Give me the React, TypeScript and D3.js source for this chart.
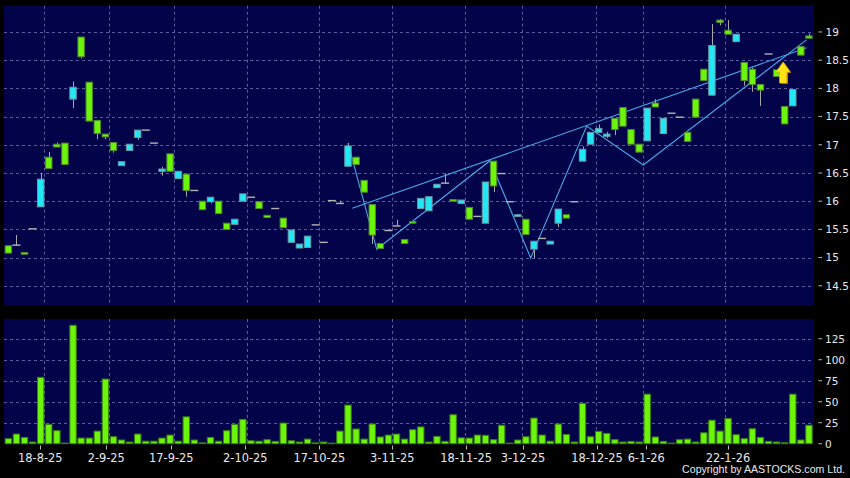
import React from 'react';
import * as d3 from 'd3';

// ---------- data ----------
const openP = [15.21,15.22,15.09,15.51,15.90,16.78,17.01,17.03,17.81,18.91,18.11,17.43,17.19,17.04,16.63,16.90,17.13,17.26,17.03,16.53,16.84,16.40,16.48,16.19,16.00,15.99,16.00,15.61,15.59,16.00,16.07,15.99,15.75,15.87,15.70,15.27,15.17,15.18,15.58,15.27,16.01,15.96,16.62,16.78,16.37,15.94,15.25,15.48,15.56,15.32,15.64,15.87,15.83,16.24,16.32,16.03,15.96,15.89,15.73,15.61,16.71,16.49,15.99,15.73,15.68,15.15,15.34,15.24,15.61,15.76,15.99,16.71,17.01,17.22,17.15,17.47,17.66,17.27,17.01,17.07,17.74,17.20,17.56,17.49,17.22,17.81,18.34,17.88,19.21,19.03,18.83,18.46,18.34,18.07,18.61,18.33,17.68,17.69,18.74,18.93];
const closeP = [15.08,15.22,15.06,15.51,16.39,16.58,16.96,16.65,18.02,18.56,17.42,17.20,17.14,16.90,16.70,17.01,17.26,17.26,17.03,16.57,16.53,16.53,16.19,16.19,15.85,16.07,15.78,15.50,15.68,16.13,16.07,15.87,15.71,15.87,15.53,15.49,15.24,15.38,15.58,15.27,16.01,15.96,16.98,16.65,16.16,15.40,15.16,15.48,15.56,15.25,15.61,16.05,16.08,16.30,16.32,16.00,16.02,15.68,15.73,16.34,16.27,16.49,15.99,15.76,15.41,15.29,15.34,15.29,15.86,15.70,15.99,16.92,17.22,17.29,17.19,17.27,17.33,17.01,16.87,17.65,17.67,17.47,17.56,17.49,17.06,17.49,18.14,18.76,19.17,18.96,18.96,18.14,18.07,17.97,18.61,18.21,17.37,17.98,18.59,18.89];
const highP = [15.21,15.40,15.09,15.51,16.50,16.87,17.04,17.03,18.12,18.91,18.11,17.43,17.19,17.04,16.70,17.01,17.26,17.26,17.03,16.61,16.84,16.53,16.48,16.19,16.00,16.07,16.00,15.61,15.68,16.13,16.07,15.99,15.75,15.87,15.70,15.49,15.24,15.38,15.58,15.27,16.01,16.01,17.03,16.78,16.37,15.94,15.25,15.48,15.67,15.32,15.64,16.05,16.08,16.30,16.49,16.03,16.02,15.89,15.73,16.34,16.71,16.49,15.99,15.76,15.68,15.29,15.34,15.29,15.86,15.76,15.99,16.97,17.22,17.36,17.23,17.47,17.66,17.27,17.01,17.65,17.81,17.47,17.56,17.49,17.22,17.81,18.34,19.14,19.23,19.21,18.96,18.46,18.37,18.07,18.61,18.33,17.68,17.98,18.74,18.97];
const lowP = [15.08,15.22,15.06,15.51,15.90,16.58,16.96,16.65,17.65,18.53,17.42,17.10,17.10,16.86,16.63,16.90,17.09,17.26,17.03,16.45,16.53,16.40,16.08,16.19,15.85,15.96,15.78,15.50,15.59,16.00,16.07,15.87,15.71,15.87,15.53,15.27,15.17,15.18,15.58,15.27,16.01,15.96,16.62,16.65,16.16,15.24,15.16,15.48,15.56,15.25,15.61,15.87,15.83,16.24,16.32,16.00,15.96,15.68,15.73,15.61,16.16,16.49,15.99,15.73,15.41,14.99,15.34,15.24,15.54,15.70,15.99,16.71,17.01,17.22,17.12,17.17,17.33,17.01,16.87,17.07,17.67,17.20,17.56,17.49,17.06,17.49,18.14,17.88,19.12,18.96,18.83,18.05,17.94,17.69,18.61,18.21,17.37,17.69,18.59,18.89];
const volume = [6,11.5,7.5,2,79,23,15.5,0.5,141,6.7,6.7,15,77,8.3,4.4,2,11.5,3,3,6.7,10.3,3,32,4.4,1,7.5,3,15.5,23,29,3.5,3,4.8,2.8,24.6,3.5,2,5.5,1,2,0.3,15,46,17.5,5.5,23.4,8,10.3,11.5,5.5,16.7,20,2,8.7,2.8,34.5,7,6.7,10.3,10,4.8,22,0.4,4.4,8.3,30.5,10.3,3,23.4,11,2,48,8.3,14.7,12.3,4.8,2,2.8,2,59,8,2.8,0.3,4.8,5.5,2,13,28,15,30,10.7,6,17.8,7.5,2.8,2,1.2,59,4.4,22];

const xTickLabels = ['18-8-25','2-9-25','17-9-25','2-10-25','17-10-25','3-11-25','18-11-25','3-12-25','18-12-25','6-1-26','22-1-26'];
const xTickPos = [3.95,12.11,20.15,29.3,38.45,47.48,56.6,63.64,72.79,78.88,88.99];
const xGridPos = [4.45,12.48,20.52,29.55,38.45,47.48,56.5,63.55,72.63,78.52,88.6];
const priceTicks = [14.5,15,15.5,16,16.5,17,17.5,18,18.5,19];
const volTicks = [0,25,50,75,100,125];

const zigzagLine: [number, number][] = [[42,17.03],[45.55,15.147],[59.56,16.718],[64.59,14.993],[71.52,17.333],[78.52,16.642],[98.7,18.86]];
const upperLine: [number, number][] = [[42.53,15.874],[98.7,18.72]];
const arrowPoint: [number, number] = [95.8, 18.47];

// ---------- layout ----------
const W = 850, H = 478;
const L = 4, R = 814;
const P_TOP = 5.7, P_BOT = 305.7;
const V_TOP = 319, V_BOT = 443.7;

const NAVY = '#03034a';
const GRID = '#5a5aa0';
const GREEN = '#6cf50a';
const GREEN_S = '#4f8a2e';
const CYAN = '#22e8f6';
const CYAN_S = '#6e9aa6';
const WICK = '#a8a8a8';
const TXT = '#e8e8e8';
const LINE = '#4aa8e6';

export default function App() {
  const n = closeP.length;
  const x = d3.scaleLinear().domain([-0.5, n - 0.5]).range([4.3, 813]);
  const yP = d3.scaleLinear().domain([14.147, 19.466]).range([P_BOT, P_TOP]);
  const yV = d3.scaleLinear().domain([0, 148.5]).range([V_BOT, V_TOP]);
  const lineGen = d3.line<[number, number]>().x(d => x(d[0])).y(d => yP(d[1]));
  const bw = 6.4;

  const [ax, ay] = [x(arrowPoint[0]), yP(arrowPoint[1])];
  const arrowPts = (dx: number, dy: number) => [
    [ax + dx, ay + dy], [ax + 7 + dx, ay + 10 + dy], [ax + 3.6 + dx, ay + 10 + dy], [ax + 3.6 + dx, ay + 21 + dy],
    [ax - 3.6 + dx, ay + 21 + dy], [ax - 3.6 + dx, ay + 10 + dy], [ax - 7 + dx, ay + 10 + dy]
  ].map(p => p.join(',')).join(' ');

  return (
    <svg width={W} height={H} style={{ position: 'fixed', left: 0, top: 0, display: 'block' }}
      fontFamily="DejaVu Sans, Verdana, sans-serif">
      <rect x={0} y={0} width={W} height={H} fill="#000" />
      <rect x={L} y={P_TOP} width={R - L} height={P_BOT - P_TOP} fill={NAVY} />
      <rect x={L} y={V_TOP} width={R - L} height={V_BOT - V_TOP} fill={NAVY} />

      {/* grid */}
      {priceTicks.map(p => (
        <line key={'hp' + p} x1={L} x2={R} y1={Math.round(yP(p)) + 0.5} y2={Math.round(yP(p)) + 0.5}
          stroke={GRID} strokeDasharray="3,3" />
      ))}
      {volTicks.filter(v => v > 0).map(v => (
        <line key={'hv' + v} x1={L} x2={R} y1={Math.round(yV(v)) + 0.5} y2={Math.round(yV(v)) + 0.5}
          stroke={GRID} strokeDasharray="3,3" />
      ))}
      {xGridPos.map((g, i) => (
        <g key={'vg' + i}>
          <line x1={Math.round(x(g)) + 0.5} x2={Math.round(x(g)) + 0.5} y1={P_TOP} y2={P_BOT} stroke={GRID} strokeDasharray="3,3" />
          <line x1={Math.round(x(g)) + 0.5} x2={Math.round(x(g)) + 0.5} y1={V_TOP} y2={V_BOT} stroke={GRID} strokeDasharray="3,3" />
        </g>
      ))}

      {/* trend lines (behind candles) */}
      <path d={lineGen(upperLine) || ''} fill="none" stroke={LINE} strokeWidth={1.1} />
      <path d={lineGen(zigzagLine) || ''} fill="none" stroke={LINE} strokeWidth={1.1} />

      {/* candles */}
      {closeP.map((c, i) => {
        const o = openP[i];
        const cx = x(i);
        const wickX = Math.round(cx) + 0.5;
        const wick = highP[i] > Math.max(o, c) || lowP[i] < Math.min(o, c) ? (
          <line x1={wickX} x2={wickX} y1={yP(highP[i])} y2={yP(lowP[i])} stroke={WICK} strokeWidth={1} />
        ) : null;
        if (o === c) {
          return (
            <g key={'c' + i}>
              {wick}
              <line x1={cx - 4} x2={cx + 4} y1={yP(c)} y2={yP(c)} stroke="#b4b4b4" strokeWidth={1.4} />
            </g>
          );
        }
        const up = c > o;
        const top = yP(Math.max(o, c));
        const bot = yP(Math.min(o, c));
        return (
          <g key={'c' + i}>
            {wick}
            <rect x={cx - bw / 2} y={top} width={bw} height={Math.max(bot - top, 1.2)}
              fill={up ? CYAN : GREEN} stroke={up ? CYAN_S : GREEN_S} strokeWidth={1} />
          </g>
        );
      })}

      {/* arrow */}
      <polygon points={arrowPts(1.2, 0.8)} fill="#d48a00" />
      <polygon points={arrowPts(0, 0)} fill="#ffe418" stroke="#f0b000" strokeWidth={0.6} />

      {/* volume bars */}
      {volume.map((v, i) => {
        const cx = x(i);
        const h = Math.max(V_BOT - yV(v), 0.6);
        return (
          <rect key={'v' + i} x={cx - bw / 2} y={V_BOT - h} width={bw} height={h}
            fill={GREEN} stroke="#3a7d12" strokeWidth={1} />
        );
      })}

      {/* right axis price */}
      {priceTicks.map(p => (
        <g key={'pt' + p}>
          <line x1={818.5} x2={822} y1={yP(p)} y2={yP(p)} stroke="#bbb" />
          <text x={825.5} y={yP(p) + 3.8} fontSize={10.5} fill={TXT}>{String(p)}</text>
        </g>
      ))}
      {/* right axis volume */}
      {volTicks.map(v => (
        <g key={'vt' + v}>
          <line x1={818.5} x2={822} y1={yV(v)} y2={yV(v)} stroke="#bbb" />
          <text x={825} y={yV(v) + 3.8} fontSize={10.5} fill={TXT}>{String(v)}</text>
        </g>
      ))}
      {/* x axis */}
      {xTickLabels.map((lab, i) => (
        <g key={'xt' + i}>
          <line x1={Math.round(x(xTickPos[i])) + 0.5} x2={Math.round(x(xTickPos[i])) + 0.5} y1={445.5} y2={449.5} stroke="#bbb" />
          <text x={x(xTickPos[i])} y={461.6} fontSize={11.4} fill={TXT} textAnchor="middle">{lab}</text>
        </g>
      ))}
      <text x={845} y={473.4} fontSize={10.6} fill={TXT} textAnchor="end"
        fontFamily="Liberation Sans, Arial, sans-serif">Copyright by AASTOCKS.com Ltd.</text>
    </svg>
  );
}
